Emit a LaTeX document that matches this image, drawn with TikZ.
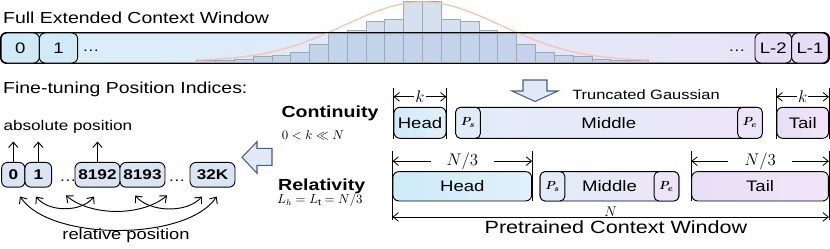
\documentclass[tikz,border=0pt]{standalone}
\usepackage{amsmath,amssymb}
\usepackage{fontspec}
\setmainfont{Liberation Sans}[FakeStretch=1.22]
\usepackage{xcolor}
\usepackage{tikz}
\usetikzlibrary{arrows.meta, calc}

\definecolor{fullL}{RGB}{216,239,249}
\definecolor{fullR}{RGB}{234,227,247}
\definecolor{idxblue}{RGB}{207,235,248}
\definecolor{idxlav}{RGB}{230,221,245}
\definecolor{headL}{RGB}{206,235,249}
\definecolor{headR}{RGB}{224,241,250}
\definecolor{midL}{RGB}{226,236,249}
\definecolor{midR}{RGB}{237,229,247}
\definecolor{tailL}{RGB}{232,224,247}
\definecolor{tailR}{RGB}{241,228,247}
\definecolor{posfill}{RGB}{217,229,243}
\definecolor{barfill}{RGB}{150,180,215}
\definecolor{barline}{RGB}{160,168,178}
\definecolor{gausscol}{RGB}{247,196,176}
\definecolor{hollowline}{RGB}{72,94,130}
\definecolor{hollowfill}{RGB}{224,233,245}

\begin{document}
\begin{tikzpicture}[
  x=0.03cm, y=-0.03cm,
  txt/.style={inner sep=0pt, font=\fontsize{13.6}{16}\selectfont},
  rowlab/.style={inner sep=0pt, font=\bfseries\fontsize{13.7}{16}\selectfont},
  formula/.style={inner sep=0pt, font=\fontsize{10.5}{12}\selectfont},
  ellip/.style={inner sep=0pt, font=\fontsize{12}{14}\selectfont},
  idx/.style={draw, rounded corners=5pt, line width=0.8pt, minimum height=0.9cm,
              minimum width=1.1cm, inner sep=0pt, font=\fontsize{13}{15}\selectfont},
  seg/.style={draw, rounded corners=5pt, line width=0.8pt, inner sep=0pt,
              font=\fontsize{13}{15}\selectfont},
  pbox/.style={draw, rounded corners=4pt, line width=0.8pt, inner sep=0pt,
               minimum width=0.74cm, font=\fontsize{10}{12}\selectfont},
  posbox/.style={draw, rounded corners=5pt, line width=0.8pt, fill=posfill,
                 minimum height=0.74cm, minimum width=1.35cm, inner sep=0pt,
                 font=\bfseries\fontsize{12}{14}\selectfont},
  histbar/.style={draw=barline, line width=0.7pt, fill=barfill, fill opacity=0.4},
  gauss/.style={draw=gausscol, line width=1.1pt},
  dimline/.style={line width=0.7pt},
  dimarr/.style={line width=0.7pt,
                 {Straight Barb[length=1.6mm,width=2.6mm]}-{Straight Barb[length=1.6mm,width=2.6mm]}},
  dimlab/.style={fill=white, inner sep=1pt, font=\fontsize{14.4}{16}\selectfont},
  posarr/.style={line width=0.8pt, -{Straight Barb[length=1.6mm,width=2.8mm]}},
  relarr/.style={line width=0.8pt,
                 {Straight Barb[length=1.6mm,width=2.8mm]}-{Straight Barb[length=1.6mm,width=2.8mm]}},
  hollowarr/.style={draw=hollowline, fill=hollowfill, line width=0.9pt, line join=miter}
]
\useasboundingbox (0,0) rectangle (830,249);

\node[txt, anchor=base west] (title) at (3,23.3) {Full Extended Context Window};
\node[draw, rounded corners=5pt, line width=0.8pt, minimum width=24.84cm, minimum height=0.9cm,
      left color=fullL, right color=fullR] (full) at (415,48) {};
\foreach \h [count=\i from 0] in {2.7,3,4,6.7,8,10.7,18.7,29.7,32.3,41.3,44,61.3,
                                   61.3,44,41.3,32.3,29.7,18.7,10.7,8,6.7,4,3,2.7}
  \draw[histbar] ({196.7+\i*18.82},63) rectangle ++(18.82,-\h);
\draw[gauss] plot[domain=196.7:648.3, samples=90, smooth]
  (\x, {61-59*exp(-0.5*((\x-422.5)/78)*((\x-422.5)/78))});
\draw[rounded corners=5pt, line width=0.8pt] (full.south west) rectangle (full.north east);

\node[idx, fill=idxblue, minimum width=1.15cm] (t0)  at (20.2,48)  {0};
\node[idx, fill=idxblue, minimum width=1.15cm] (t1)  at (58.5,48)  {1};
\node[ellip, anchor=base]                      (td1) at (91,51)    {\dots};
\node[ellip, anchor=base]                      (td2) at (737,51)   {\dots};
\node[idx, fill=idxlav]                        (tl2) at (773.3,48) {L-2};
\node[idx, fill=idxlav]                        (tl1) at (810,48)   {L-1};

\node[txt, anchor=base west] (ftpi) at (3,93.3) {Fine-tuning Position Indices:};
\draw[hollowarr] (523,80) -- (547,80) -- (547,91) -- (558,91) -- (535,101.5)
  -- (512,91) -- (523,91) -- cycle;
\node[txt, font=\fontsize{11.5}{13}\selectfont, anchor=base] (tg) at (646,99.5) {Truncated Gaussian};

\node[rowlab]  (cont) at (330,113.3) {Continuity};
\node[formula] (kcon) at (313,135.5) {$0 < k \ll N$};
\node[seg, minimum width=1.56cm, minimum height=0.93cm, left color=headL, right color=headR]
  (hc) at (420,122.8) {Head};
\node[seg, minimum width=9.17cm, minimum height=0.93cm, left color=midL, right color=midR]
  (mc) at (608.8,122.8) {Middle};
\node[pbox, minimum height=0.93cm, fill=midL] (psc) at (468,122.8) {$\boldsymbol{P_s}$};
\node[pbox, minimum height=0.93cm, fill=midR] (pec) at (750,122.8) {$\boldsymbol{P_e}$};
\node[seg, minimum width=1.55cm, minimum height=0.93cm, left color=tailL, right color=tailR]
  (tc) at (802.7,122.8) {Tail};
\draw[dimline] (hc.south west) -- ++(0,-50.3);
\draw[dimline] (hc.south east) -- ++(0,-50.3);
\draw[dimline] (tc.south west) -- ++(0,-50.3);
\draw[dimline] (tc.south east) -- ++(0,-50.3);
\draw[dimarr] ($(hc.north west)+(0,-10)$) -- node[dimlab] {$k$} ($(hc.north east)+(0,-10)$);
\draw[dimarr] ($(tc.north west)+(0,-10)$) -- node[dimlab] {$k$} ($(tc.north east)+(0,-10)$);

\node[rowlab]  (relv) at (321.7,186) {Relativity};
\node[formula] (lcon) at (320,200.5) {$L_h = L_{\mathrm{t}} = N/3$};
\node[seg, minimum width=4.16cm, minimum height=0.88cm, left color=headL, right color=headR]
  (hr) at (462.3,186.3) {Head};
\node[seg, minimum width=4.17cm, minimum height=0.88cm, left color=midL, right color=midR]
  (mr) at (609.5,186.3) {Middle};
\node[pbox, minimum height=0.88cm, fill=midL] (psr) at (552.5,186.3) {$\boldsymbol{P_s}$};
\node[pbox, minimum height=0.88cm, fill=midR] (per) at (666.5,186.3) {$\boldsymbol{P_e}$};
\node[seg, minimum width=4.1cm, minimum height=0.88cm, left color=tailL, right color=tailR]
  (tr) at (760.1,186.3) {Tail};
\draw[dimline] ($(hr.south west)+(0,19)$) -- ($(hr.north west)+(0,-20)$);
\draw[dimline] (hr.south east) -- ($(hr.north east)+(0,-20)$);
\draw[dimline] (tr.south west) -- ($(tr.north west)+(0,-20)$);
\draw[dimline] ($(tr.south east)+(0,19)$) -- ($(tr.north east)+(0,-20)$);
\draw[dimarr] ($(hr.north west)+(0,-10)$) -- node[dimlab, minimum width=1.9cm] {$N/3$}
  ($(hr.north east)+(0,-10)$);
\draw[dimarr] ($(tr.north west)+(0,-10)$) -- node[dimlab, minimum width=1.9cm] {$N/3$}
  ($(tr.north east)+(0,-10)$);
\draw[dimarr] ($(hr.south west)+(0,15.5)$) -- node[dimlab, inner sep=0pt, minimum width=1.74cm,
  yshift=4.5pt, font=\fontsize{12.5}{14}\selectfont] {$N$} ($(tr.south east)+(0,15.5)$);
\node[txt, font=\fontsize{15.1}{17}\selectfont, anchor=base] (pcw) at (616,233)
  {Pretrained Context Window};

\draw[hollowarr] (272,148.3) -- (257,148.3) -- (257,141.7) -- (242,157.3) -- (257,173.3)
  -- (257,165.3) -- (272,165.3) -- cycle;

\node[txt, font=\fontsize{12}{14}\selectfont, anchor=base west] (abs) at (3.3,130.5) {absolute position};
\node[posbox, minimum width=0.7cm] (p0)    at (13.3,174.8)  {0};
\node[posbox, minimum width=0.8cm] (p1)    at (38.3,174.8)  {1};
\node[ellip, anchor=base]          (pd1)   at (68,181)      {\dots};
\node[posbox]                      (p8192) at (97.5,174.8)  {8192};
\node[posbox]                      (p8193) at (142.5,174.8) {8193};
\node[ellip, anchor=base]          (pd2)   at (177,181)     {\dots};
\node[posbox]                      (p32k)  at (212.5,174.8) {32K};
\node[txt, font=\fontsize{12.8}{15}\selectfont, anchor=base] (rel) at (126,239) {relative position};

\coordinate (a0)    at (13.3,141.5);
\coordinate (a1)    at (38.3,141.5);
\coordinate (a8192) at (97.5,141.5);
\draw[posarr] (p0.north)    -- (a0);
\draw[posarr] (p1.north)    -- (a1);
\draw[posarr] (p8192.north) -- (a8192);

\coordinate (r0)  at (20,196.5);
\coordinate (r1)  at (216.7,196.5);
\coordinate (r2)  at (36,196.5);
\coordinate (r3)  at (94,196.5);
\coordinate (r4)  at (66,195.5);
\coordinate (r5)  at (167,195.5);
\coordinate (r6)  at (135,195.5);
\coordinate (r7)  at (202,196.5);
\draw[relarr] (r0) .. controls +(30,45) and +(-30,45) .. (r1);
\draw[relarr] (r2) .. controls +(12,16) and +(-12,16) .. (r3);
\draw[relarr] (r4) .. controls +(25,21) and +(-25,21) .. (r5);
\draw[relarr] (r6) .. controls +(15,17) and +(-15,17) .. (r7);
\end{tikzpicture}
\end{document}
